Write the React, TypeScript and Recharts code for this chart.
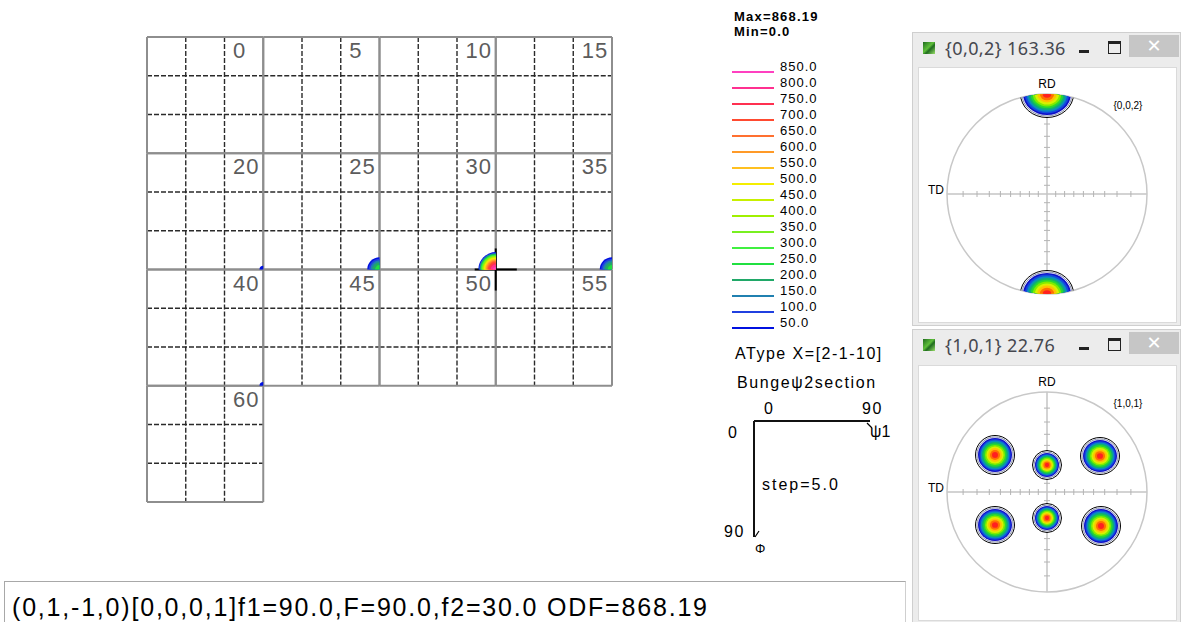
import React from "react";
import {
  ScatterChart,
  Scatter,
  XAxis,
  YAxis,
  ReferenceLine,
  ReferenceDot,
} from "recharts";

// ---------- ODF section grid (Bunge psi2 sections, step 5) ----------
const sectionLabels = ["0", "5", "10", "15", "20", "25", "30", "35", "40", "45", "50", "55", "60"];
const SECTIONS_PER_ROW = 4;
const SECTION_SPAN = 90;
const subSteps = [30, 60];

// contour levels shown in the legend, top to bottom
const contourLevels = [850, 800, 750, 700, 650, 600, 550, 500, 450, 400, 350, 300, 250, 200, 150, 100, 50];
const contourColors = [
  "#ff40c0", "#ff3090", "#ff3050", "#ff4a30", "#ff7030", "#ff9a28", "#ffc020", "#f4ee00",
  "#c8f000", "#a0f000", "#78f020", "#40f040", "#20e040", "#20a868", "#2080b0", "#2040e0", "#0010e0",
];
const odfMax = 868.19;
const odfMin = 0.0;

// intensity peaks seen in the sections (phi1, Phi inside the section)
const odfPeaks = [
  { section: "20", phi1: 90, Phi: 90, value: 60 },
  { section: "25", phi1: 90, Phi: 90, value: 280 },
  { section: "30", phi1: 90, Phi: 90, value: 868.19 },
  { section: "35", phi1: 90, Phi: 90, value: 280 },
  { section: "40", phi1: 90, Phi: 90, value: 60 },
];

// picked orientation
const cursor = { section: "30", phi1: 90, Phi: 90 };
const cursorPlane = "(0,1,-1,0)";
const cursorDir = "[0,0,0,1]";

// ---------- pole figures ----------
// stereographic tick radii every 10 degrees
const stereoTicks = [0.087, 0.176, 0.268, 0.364, 0.466, 0.577, 0.7, 0.839];
const pfRamp = ["#1010c8", "#1448e0", "#0a8cc0", "#10b070", "#28d830", "#80ec00", "#d8f000", "#ffc000", "#ff7000", "#ff2020"];

const pole002 = [
  { x: 0, y: 1, sx: 0.24, sy: 0.21 },
  { x: 0, y: -1, sx: 0.24, sy: 0.21 },
];
const pole101 = [
  { x: -0.52, y: 0.37, sx: 0.17, sy: 0.17 },
  { x: 0, y: 0.27, sx: 0.12, sy: 0.12 },
  { x: 0.53, y: 0.36, sx: 0.17, sy: 0.16 },
  { x: -0.52, y: -0.33, sx: 0.17, sy: 0.16 },
  { x: 0, y: -0.26, sx: 0.12, sy: 0.12 },
  { x: 0.54, y: -0.34, sx: 0.17, sy: 0.17 },
];

const FONT = "'Liberation Sans', Arial, sans-serif";
const PF_R = 100; // projection radius, px

const sections = sectionLabels.map((label, i) => ({
  label,
  x0: (i % SECTIONS_PER_ROW) * SECTION_SPAN,
  y0: Math.floor(i / SECTIONS_PER_ROW) * SECTION_SPAN,
}));
const sectionOrigin = (label: string) => sections.find((s) => s.label === label)!;

const labelPoints = sections.map((s) => ({ x: s.x0, y: s.y0, label: s.label }));
const peakPoints = odfPeaks.map((p) => {
  const s = sectionOrigin(p.section);
  return { x: s.x0 + p.phi1, y: s.y0 + p.Phi, value: p.value };
});
const cur = (() => {
  const s = sectionOrigin(cursor.section);
  return { x: s.x0 + cursor.phi1, y: s.y0 + cursor.Phi };
})();

function SectionLabel(props: any) {
  const { cx, cy, payload } = props;
  return (
    <text x={cx + 86} y={cy + 21} fontSize={22} fill="#5c5c5c" fontFamily={FONT} letterSpacing={1}>
      {payload.label}
    </text>
  );
}

function OdfBlob(props: any) {
  const { cx, cy, payload } = props;
  const R = 3.3 * Math.pow(payload.value, 0.25);
  const levels = contourLevels.filter((l) => l < payload.value).sort((a, b) => a - b);
  return (
    <g>
      {levels.map((l) => {
        const r = R * Math.sqrt(1 - l / payload.value);
        const c = contourColors[contourLevels.indexOf(l)];
        return <path key={l} d={`M${cx},${cy} L${cx - r},${cy} A${r},${r} 0 0 1 ${cx},${cy - r} Z`} fill={c} />;
      })}
    </g>
  );
}

function OdfSections() {
  const solid = { stroke: "#8e8e8e", strokeWidth: 2 };
  const dashed = { stroke: "#2a2a2a", strokeWidth: 1.4, strokeDasharray: "5 2" };
  const arm = 16.3;
  return (
    <div style={{ position: "absolute", left: 145, top: 35 }}>
      <ScatterChart width={469} height={469} margin={{ top: 2, right: 2, bottom: 2, left: 2 }}>
        <XAxis type="number" dataKey="x" domain={[0, 360]} hide />
        <YAxis type="number" dataKey="y" domain={[0, 360]} reversed hide />
        {sections.map((s) =>
          subSteps.map((d) => (
            <React.Fragment key={`${s.label}-${d}`}>
              <ReferenceLine segment={[{ x: s.x0 + d, y: s.y0 }, { x: s.x0 + d, y: s.y0 + SECTION_SPAN }]} {...dashed} />
              <ReferenceLine segment={[{ x: s.x0, y: s.y0 + d }, { x: s.x0 + SECTION_SPAN, y: s.y0 + d }]} {...dashed} />
            </React.Fragment>
          ))
        )}
        {sections.map((s) => (
          <React.Fragment key={`b-${s.label}`}>
            <ReferenceLine segment={[{ x: s.x0, y: s.y0 }, { x: s.x0 + SECTION_SPAN, y: s.y0 }]} {...solid} />
            <ReferenceLine segment={[{ x: s.x0, y: s.y0 + SECTION_SPAN }, { x: s.x0 + SECTION_SPAN, y: s.y0 + SECTION_SPAN }]} {...solid} />
            <ReferenceLine segment={[{ x: s.x0, y: s.y0 }, { x: s.x0, y: s.y0 + SECTION_SPAN }]} {...solid} />
            <ReferenceLine segment={[{ x: s.x0 + SECTION_SPAN, y: s.y0 }, { x: s.x0 + SECTION_SPAN, y: s.y0 + SECTION_SPAN }]} {...solid} />
          </React.Fragment>
        ))}
        <Scatter data={labelPoints} shape={(p: any) => <SectionLabel {...p} />} isAnimationActive={false} />
        <Scatter data={peakPoints} shape={(p: any) => <OdfBlob {...p} />} isAnimationActive={false} />
        <ReferenceLine segment={[{ x: cur.x - arm, y: cur.y }, { x: cur.x + arm, y: cur.y }]} stroke="#000" strokeWidth={2} />
        <ReferenceLine segment={[{ x: cur.x, y: cur.y - arm }, { x: cur.x, y: cur.y + arm }]} stroke="#000" strokeWidth={2} />
      </ScatterChart>
    </div>
  );
}

function LegendLabel(props: any) {
  const { cx, cy, payload } = props;
  return (
    <text x={cx + 6} y={cy - 1.5} fontSize={13} fill="#000" fontFamily={FONT} letterSpacing={1}>
      {payload.label}
    </text>
  );
}

function ContourLegend() {
  const pts = contourLevels.map((l) => ({ x: 1, y: l, label: l.toFixed(1) }));
  const head: React.CSSProperties = { position: "absolute", left: 734, fontSize: 13, fontWeight: 700, lineHeight: "14px", letterSpacing: 1.2, whiteSpace: "nowrap" };
  return (
    <>
      <div style={{ ...head, top: 10 }}>Max={odfMax.toFixed(2)}</div>
      <div style={{ ...head, top: 25 }}>Min={odfMin.toFixed(1)}</div>
      <div style={{ position: "absolute", left: 730, top: 56 }}>
        <ScatterChart width={104} height={274} margin={{ top: 16, right: 60, bottom: 2, left: 2 }}>
          <XAxis type="number" dataKey="x" domain={[0, 1]} hide />
          <YAxis type="number" dataKey="y" domain={[50, 850]} hide />
          {contourLevels.map((l, i) => (
            <ReferenceLine key={l} segment={[{ x: 0, y: l }, { x: 1, y: l }]} stroke={contourColors[i]} strokeWidth={2} />
          ))}
          <Scatter data={pts} shape={(p: any) => <LegendLabel {...p} />} isAnimationActive={false} />
        </ScatterChart>
      </div>
    </>
  );
}

function AxisEnd(props: any) {
  const { cx, cy, payload } = props;
  return payload.end === "phi1" ? (
    <line x1={cx - 3} y1={cy + 2} x2={cx + 2} y2={cy + 7} stroke="#000" strokeWidth={1.2} />
  ) : (
    <line x1={cx + 1} y1={cy} x2={cx + 5} y2={cy - 6} stroke="#000" strokeWidth={1.2} />
  );
}

function SectionKey() {
  const t = (left: number, top: number, text: string, extra: React.CSSProperties = {}) => (
    <div style={{ position: "absolute", left, top, fontSize: 16, lineHeight: "18px", letterSpacing: 1.5, whiteSpace: "nowrap", ...extra }}>
      {text}
    </div>
  );
  return (
    <>
      {t(735, 345, "AType X=[2-1-10]")}
      {t(737, 374, "Bungeψ2section", { letterSpacing: 1.6 })}
      {t(764, 400, "0")}
      {t(862, 400, "90")}
      {t(728, 424, "0")}
      {t(870, 423, "ψ1", { letterSpacing: 0 })}
      {t(762, 476, "step=5.0", { letterSpacing: 2 })}
      {t(724, 523, "90")}
      {t(755, 540, "Φ", { fontSize: 13, letterSpacing: 0 })}
      <div style={{ position: "absolute", left: 752, top: 419 }}>
        <ScatterChart width={124} height={124} margin={{ top: 2, right: 6, bottom: 6, left: 2 }}>
          <XAxis type="number" dataKey="x" domain={[0, 90]} hide />
          <YAxis type="number" dataKey="y" domain={[0, 90]} reversed hide />
          <ReferenceLine segment={[{ x: 0, y: 0 }, { x: 90, y: 0 }]} stroke="#111" strokeWidth={2} />
          <ReferenceLine segment={[{ x: 0, y: 0 }, { x: 0, y: 90 }]} stroke="#111" strokeWidth={2} />
          <Scatter
            data={[{ x: 90, y: 0, end: "phi1" }, { x: 0, y: 90, end: "Phi" }]}
            shape={(p: any) => <AxisEnd {...p} />}
            isAnimationActive={false}
          />
        </ScatterChart>
      </div>
    </>
  );
}

function StereoTick(props: any) {
  const { cx, cy, payload } = props;
  return payload.dir === "h" ? (
    <line x1={cx} y1={cy - 3} x2={cx} y2={cy + 3} stroke="#b4b4b4" strokeWidth={1} />
  ) : (
    <line x1={cx - 3} y1={cy} x2={cx + 3} y2={cy} stroke="#b4b4b4" strokeWidth={1} />
  );
}

function PoleBlob(props: any) {
  const { cx, cy, payload } = props;
  const ox = cx - payload.x * PF_R;
  const oy = cy + payload.y * PF_R;
  const rx = payload.sx * PF_R;
  const ry = payload.sy * PF_R;
  const id = `pfclip-${payload.key}`;
  const n = pfRamp.length;
  return (
    <g>
      <clipPath id={id}>
        <circle cx={ox} cy={oy} r={PF_R} />
      </clipPath>
      <g clipPath={`url(#${id})`}>
        <ellipse cx={cx} cy={cy} rx={rx + 2.5} ry={ry + 2.5} fill="#fff" stroke="#000" strokeWidth={1} />
        <ellipse cx={cx} cy={cy} rx={rx + 1} ry={ry + 1} fill="none" stroke="#8890b0" strokeWidth={1} />
        {pfRamp.map((c, k) => {
          const f = Math.pow(1 - k / n, 0.75);
          return <ellipse key={c} cx={cx} cy={cy} rx={rx * f} ry={ry * f} fill={c} />;
        })}
      </g>
    </g>
  );
}

function PoleFigure({ id, top, hkl, poles }: { id: string; top: number; hkl: string; poles: typeof pole101 }) {
  const ticks = stereoTicks.flatMap((r) => [
    { x: r, y: 0, dir: "h" },
    { x: -r, y: 0, dir: "h" },
    { x: 0, y: r, dir: "v" },
    { x: 0, y: -r, dir: "v" },
  ]);
  const pts = poles.map((p, i) => ({ ...p, key: `${id}${i}` }));
  const lbl = { fill: "#000", fontSize: 12, fontFamily: FONT };
  // plot area: 200x200 px centred on the projection
  return (
    <div style={{ position: "absolute", left: 917, top: top - 24 }}>
      <ScatterChart width={270} height={228} margin={{ top: 24, right: 40, bottom: 4, left: 30 }}>
        <XAxis type="number" dataKey="x" domain={[-1, 1]} hide />
        <YAxis type="number" dataKey="y" domain={[-1, 1]} hide />
        <ReferenceDot x={0} y={0} r={PF_R} fill="none" stroke="#c8c8c8" strokeWidth={1.5} />
        <ReferenceLine segment={[{ x: -1, y: 0 }, { x: 1, y: 0 }]} stroke="#c4c4c4" strokeWidth={1.5} />
        <ReferenceLine segment={[{ x: 0, y: -1 }, { x: 0, y: 1 }]} stroke="#c4c4c4" strokeWidth={1.5} />
        <Scatter data={ticks} shape={(p: any) => <StereoTick {...p} />} isAnimationActive={false} />
        <Scatter data={pts} shape={(p: any) => <PoleBlob {...p} />} isAnimationActive={false} />
        <ReferenceDot x={0} y={1} r={0} label={{ value: "RD", position: "top", offset: 6, ...lbl }} />
        <ReferenceDot x={-1} y={0} r={0} label={{ value: "TD", position: "left", offset: 3, dy: -4, ...lbl }} />
        <ReferenceDot x={0.81} y={0.89} r={0} label={{ value: hkl, position: "center", ...lbl, fontSize: 10 }} />
      </ScatterChart>
    </div>
  );
}

function WindowFrame({ top, height, panelTop, panelHeight, title }: { top: number; height: number; panelTop: number; panelHeight: number; title: string }) {
  return (
    <div style={{ position: "absolute", left: 912, top, width: 269, height, background: "#ececec", border: "1px solid #cfcfcf", boxSizing: "border-box" }}>
      <div style={{ position: "absolute", left: 10, top: 9, width: 12, height: 12, background: "linear-gradient(135deg,#1f6b1f 0%,#5fbf3a 45%,#1f6b1f 60%,#9be06a 100%)" }} />
      <div style={{ position: "absolute", left: 32, top: 2, fontFamily: "'Noto Sans', sans-serif", fontSize: 18, lineHeight: "26px", color: "#45474f", letterSpacing: 0.4, whiteSpace: "nowrap" }}>
        {title}
      </div>
      <div style={{ position: "absolute", left: 166, top: 17, width: 10, height: 3, background: "#222" }} />
      <div style={{ position: "absolute", left: 195, top: 8, width: 11, height: 9, border: "1px solid #222", borderTop: "3px solid #222" }} />
      <div style={{ position: "absolute", left: 216, top: 2, width: 50, height: 22, background: "#c6c6c6", color: "#fff", fontSize: 18, lineHeight: "22px", textAlign: "center", fontFamily: "'DejaVu Sans', sans-serif" }}>
        ✕
      </div>
      <div style={{ position: "absolute", left: 5, top: panelTop - top, width: 259, height: panelHeight, background: "#fff", border: "1px solid #dadada", boxSizing: "border-box" }} />
    </div>
  );
}

export default function App() {
  const readout = `${cursorPlane}${cursorDir}f1=${cursor.phi1.toFixed(1)},F=${cursor.Phi.toFixed(1)},f2=${Number(cursor.section).toFixed(1)} ODF=${odfMax.toFixed(2)}`;
  return (
    <div style={{ position: "absolute", left: 0, top: 0, width: 1184, height: 622, overflow: "hidden", background: "#fff", fontFamily: FONT, color: "#000" }}>
      <OdfSections />
      <ContourLegend />
      <SectionKey />

      <WindowFrame top={32} height={294} panelTop={66} panelHeight={256} title="{0,0,2} 163.36" />
      <PoleFigure id="a" top={94} hkl="{0,0,2}" poles={pole002} />
      <WindowFrame top={329} height={300} panelTop={364} panelHeight={256} title="{1,0,1} 22.76" />
      <PoleFigure id="b" top={392} hkl="{1,0,1}" poles={pole101} />

      <div style={{ position: "absolute", left: 4, top: 581, width: 902, height: 60, borderTop: "1px solid #a8a8a8", borderLeft: "1px solid #a8a8a8", borderRight: "1px solid #cfcfcf", boxSizing: "border-box" }} />
      <div style={{ position: "absolute", left: 12, top: 593, fontSize: 25, lineHeight: "28px", letterSpacing: 1.8, whiteSpace: "nowrap" }}>
        {readout}
      </div>
    </div>
  );
}
